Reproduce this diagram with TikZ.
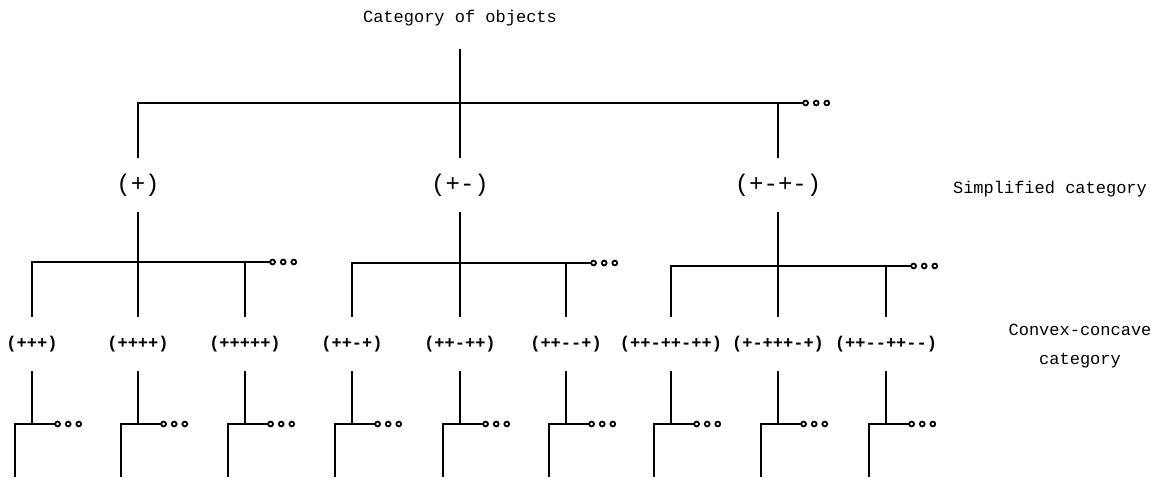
\documentclass[tikz,border=0pt]{standalone}
\usepackage{fontspec}
\setmonofont{Liberation Mono}
\usetikzlibrary{calc}

\tikzset{
  link/.style={line width=1.3pt},
  lab/.style={font=\fontsize{17}{20}\selectfont\ttfamily, inner sep=0pt},
  simple/.style={font=\fontsize{24}{28}\selectfont\ttfamily, inner sep=0pt, minimum height=54pt},
  convex/.style={font=\fontsize{17}{20}\selectfont\ttfamily\bfseries, inner sep=0pt, minimum height=54pt},
  etc/.pic={\foreach \k in {0,1,2} \draw[line width=1.8pt] (2.6+10.6*\k,0) circle (2.4pt);}
}

\begin{document}
\begin{tikzpicture}[x=1pt, y=-1pt]
    \useasboundingbox (0,0) rectangle (1170,478);

    % Category labels
    \node[lab] (root) at (460,18) {Category of objects};
    \node[simple] (s1) at (138,185) {(+)};
    \node[simple] (s2) at (460,185) {(+-)};
    \node[simple] (s3) at (778,185) {(+-+-)};
    \node[lab] (simp) at (1050,189) {Simplified category};

    \node[convex] (c1) at (32,344) {(+++)};
    \node[convex] (c2) at (138,344) {(++++)};
    \node[convex] (c3) at (245,344) {(+++++)};
    \node[convex] (c4) at (352,344) {(++-+)};
    \node[convex] (c5) at (460,344) {(++-++)};
    \node[convex] (c6) at (566,344) {(++--+)};
    \node[convex] (c7) at (671,344) {(++-++-++)};
    \node[convex] (c8) at (778,344) {(+-+++-+)};
    \node[convex] (c9) at (886,344) {(++--++--)};
    \node[lab, align=center, font=\fontsize{17}{29}\selectfont\ttfamily] (conv) at (1080,346) {Convex-concave\\category};

    % Bar ends
    \coordinate (top) at (460,49);
    \coordinate (tbar) at (803,103);
    \coordinate (g1) at (270,262);
    \coordinate (g2) at (591,263);
    \coordinate (g3) at (911,266);

    % Branches
    \draw[link] (top) -- (s2);
    \draw[link] (s1) |- (tbar);
    \draw[link] (s3) -- (s3 |- tbar);
    \pic at (tbar) {etc};

    \draw[link] (s1) -- (c2);
    \draw[link] (c1) |- (g1);
    \draw[link] (c3) -- (c3 |- g1);
    \pic at (g1) {etc};

    \draw[link] (s2) -- (c5);
    \draw[link] (c4) |- (g2);
    \draw[link] (c6) -- (c6 |- g2);
    \pic at (g2) {etc};

    \draw[link] (s3) -- (c8);
    \draw[link] (c7) |- (g3);
    \draw[link] (c9) -- (c9 |- g3);
    \pic at (g3) {etc};

    % Lower elbows
    \foreach \n in {1,...,9}{
      \path (c\n) ++(23,80) coordinate (e\n) (c\n) ++(-17,133) coordinate (f\n);
      \draw[link] (c\n) -- (c\n |- e\n);
      \draw[link] (e\n) -| (f\n);
      \pic at (e\n) {etc};
    }
\end{tikzpicture}
\end{document}
